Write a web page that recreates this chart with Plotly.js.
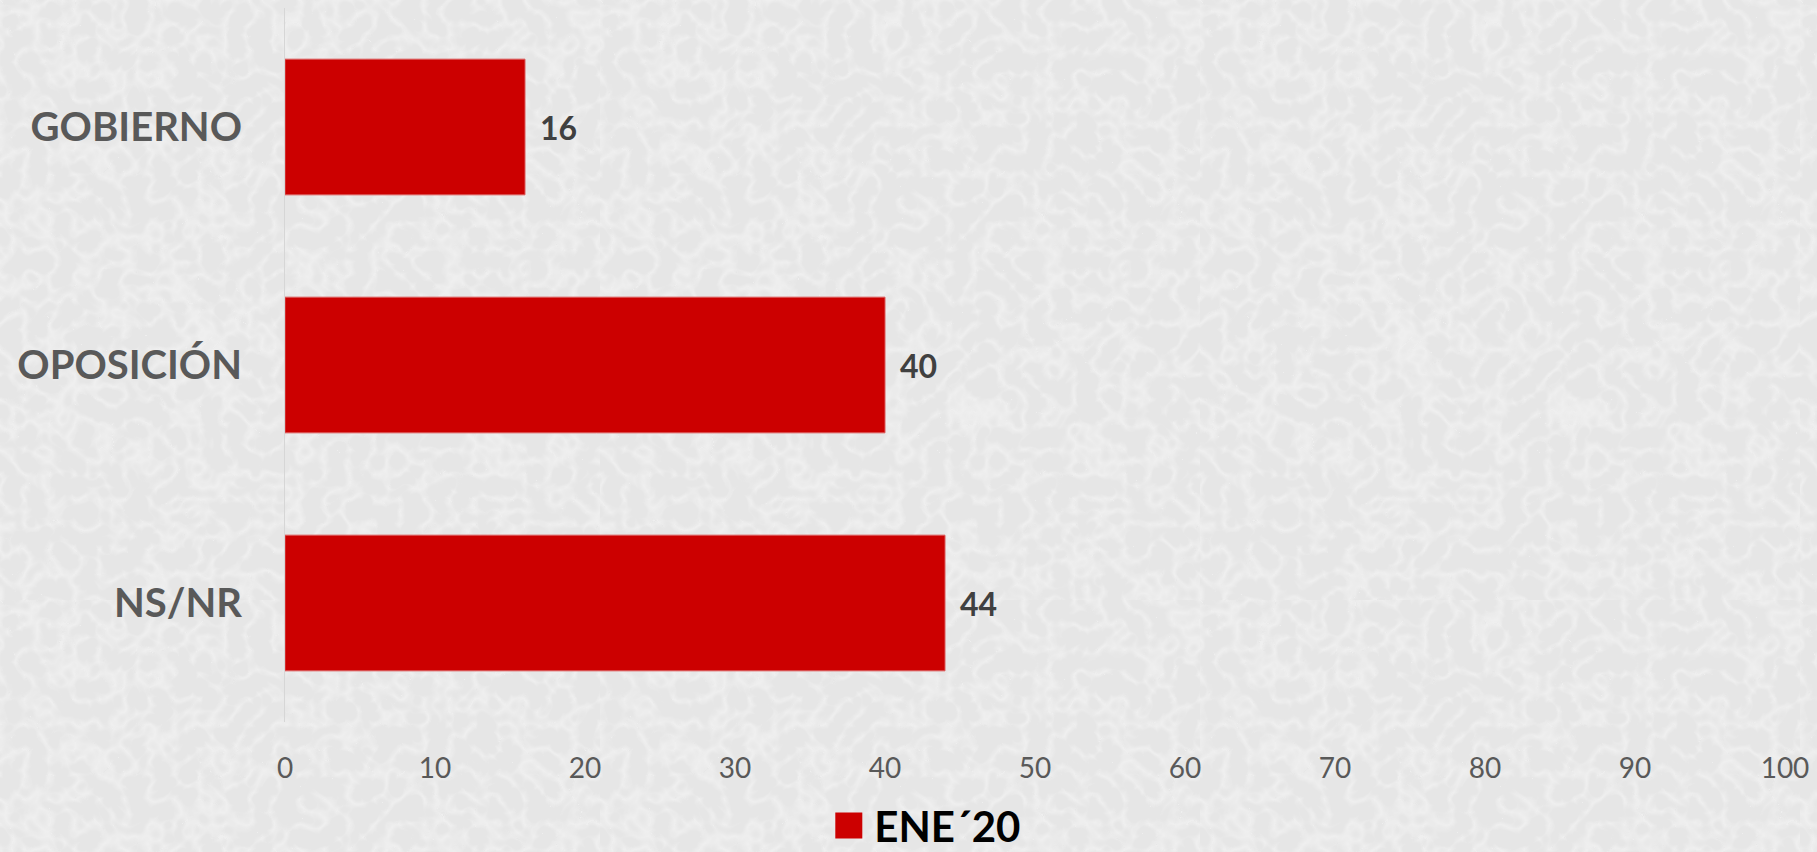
<!DOCTYPE html>
<html>
<head>
<meta charset="utf-8">
<script src="https://cdn.plot.ly/plotly-3.0.1.min.js"></script>
<style>
html,body{margin:0;padding:0;width:1817px;height:852px;overflow:hidden;}
body{
  background-color:#e6e6e6;
  background-image:url("data:image/svg+xml;utf8,<svg xmlns='http://www.w3.org/2000/svg' width='600' height='600'><filter id='n'><feTurbulence type='turbulence' baseFrequency='0.04' numOctaves='2' seed='7'/><feColorMatrix values='0 0 0 0 1  0 0 0 0 1  0 0 0 0 1  -2.6 0 0 0 0.75'/></filter><rect width='100%' height='100%' filter='url(%23n)' opacity='0.5'/></svg>");
}
#chart{width:1817px;height:852px;}
</style>
</head>
<body>
<div id="chart"></div>
<script>
// Data
const categories = ["GOBIERNO", "OPOSICIÓN", "NS/NR"];
const values = [16, 40, 44];
const seriesName = "ENE´20";
const tickValues = [0, 10, 20, 30, 40, 50, 60, 70, 80, 90, 100];

const FONT = "Lato, 'Open Sans', sans-serif";

const trace = {
  type: "bar",
  orientation: "h",
  name: seriesName,
  y: categories,
  x: values,
  marker: {color: "#cc0000", line: {width: 1, color: "#dc5a5a"}},
  showlegend: true,
  hoverinfo: "none"
};

const annotations = categories.map((c, i) => ({
  x: values[i], y: c, xref: "x", yref: "y",
  text: String(values[i]),
  showarrow: false, xanchor: "left", yanchor: "middle", xshift: 13,
  font: {family: FONT, size: 32, color: "#404040", weight: 700}
}));

const layout = {
  width: 1817, height: 852,
  margin: {l: 285, r: 32, t: 8, b: 130},
  paper_bgcolor: "rgba(0,0,0,0)",
  plot_bgcolor: "rgba(0,0,0,0)",
  bargap: 0.43,
  font: {family: FONT},
  xaxis: {
    range: [0, 100],
    tickvals: tickValues,
    ticktext: tickValues.map(String),
    showgrid: false, zeroline: false, showline: false,
    ticks: "",
    ticklabelstandoff: 27,
    tickfont: {family: FONT, size: 28, color: "#595959"}
  },
  yaxis: {
    type: "category",
    categoryorder: "array",
    categoryarray: categories,
    autorange: "reversed",
    showgrid: false, zeroline: false,
    showline: true, linecolor: "#d6d6d6", linewidth: 1,
    ticks: "",
    ticklabelstandoff: 34,
    tickfont: {family: FONT, size: 40, color: "#595959", weight: 700}
  },
  legend: {
    orientation: "h",
    xref: "container", yref: "container",
    x: 0.512, xanchor: "center",
    y: 0.031, yanchor: "middle",
    font: {family: FONT, size: 42, color: "#000000", weight: 700},
    bgcolor: "rgba(0,0,0,0)"
  },
  annotations: annotations
};

Plotly.newPlot("chart", [trace], layout, {displayModeBar: false, staticPlot: true}).then(() => {
  document.querySelectorAll(".legendpoints path").forEach(p => {
    p.setAttribute("d", "M8,13H-19V-13H8Z");
    p.style.strokeWidth = "0px";
  });
});
</script>
</body>
</html>
